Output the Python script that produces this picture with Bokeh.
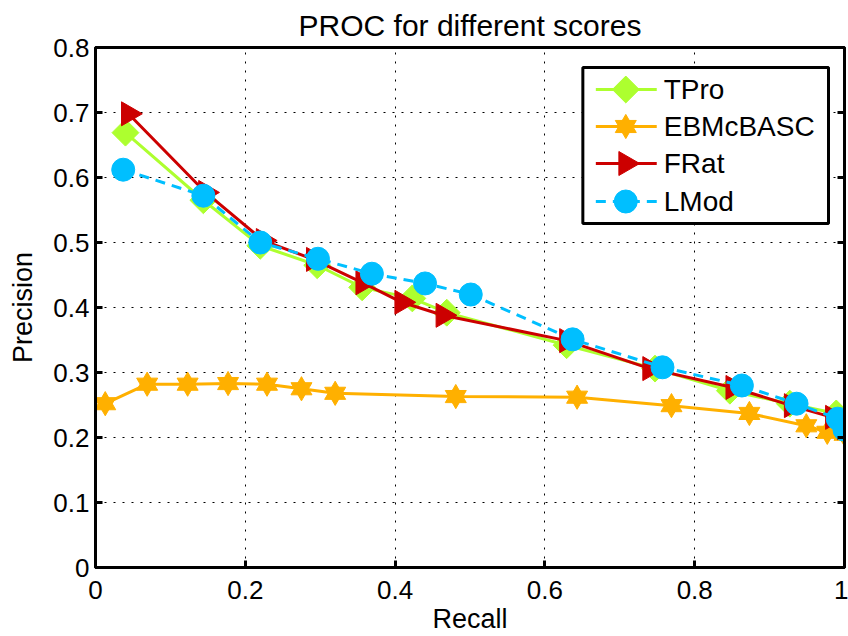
import math
from bokeh.plotting import figure
from bokeh.models import LinearAxis, Range1d, FixedTicker, CustomLabelingPolicy
from bokeh.core.properties import value
from bokeh.embed import file_html
from bokeh.resources import INLINE

# ---- data ----
title_text = "PROC for different scores"
series_names = ["TPro", "EBMcBASC", "FRat", "LMod"]

tpro_x = [0.040, 0.144, 0.220, 0.296, 0.356, 0.423, 0.469, 0.629, 0.747, 0.847, 0.927, 0.989, 1.0]
tpro_y = [0.669, 0.565, 0.495, 0.465, 0.431, 0.414, 0.392, 0.342, 0.306, 0.272, 0.252, 0.237, 0.210]

ebm_x = [0.013, 0.069, 0.123, 0.177, 0.229, 0.275, 0.320, 0.481, 0.643, 0.769, 0.873, 0.949, 0.977, 1.0]
ebm_y = [0.252, 0.282, 0.282, 0.283, 0.282, 0.275, 0.268, 0.263, 0.262, 0.249, 0.237, 0.218, 0.208, 0.205]

frat_x = [0.044, 0.147, 0.224, 0.291, 0.357, 0.409, 0.464, 0.629, 0.740, 0.851, 0.929, 0.984, 1.0]
frat_y = [0.698, 0.577, 0.503, 0.474, 0.438, 0.408, 0.388, 0.349, 0.306, 0.277, 0.249, 0.231, 0.215]

lmod_x = [0.037, 0.144, 0.220, 0.297, 0.369, 0.440, 0.501, 0.637, 0.757, 0.863, 0.936, 0.991, 1.0]
lmod_y = [0.612, 0.572, 0.500, 0.475, 0.452, 0.437, 0.420, 0.351, 0.308, 0.280, 0.252, 0.229, 0.212]

x_ticks = [0, 0.2, 0.4, 0.6, 0.8, 1]
y_ticks = [0, 0.1, 0.2, 0.3, 0.4, 0.5, 0.6, 0.7, 0.8]
x_tick_labels = {0: "0", 0.2: "0.2", 0.4: "0.4", 0.6: "0.6", 0.8: "0.8", 1: "1"}
y_tick_labels = {0: "0", 0.1: "0.1", 0.2: "0.2", 0.3: "0.3", 0.4: "0.4", 0.5: "0.5",
                 0.6: "0.6", 0.7: "0.7", 0.8: "0.8"}

GREEN = "#ADFF2F"
ORANGE = "#FFB000"
RED = "#CC0000"
BLUE = "#00BFFF"
FONT = "Liberation Sans"

# ---- layout (pixels) ----
W, H = 848, 636
FL, FR, FT, FB = 95, 845, 47, 567
X0, X1, Y0, Y1 = 0.0, 1.0, 0.0, 0.8


def px_x(px):
    return X0 + (px - FL) / (FR - FL) * (X1 - X0)


def px_y(py):
    return Y0 + (FB - py) / (FB - FT) * (Y1 - Y0)


p = figure(width=W, height=H, output_backend="svg", toolbar_location=None,
           x_range=Range1d(X0, X1), y_range=Range1d(Y0, Y1),
           min_border_left=FL, min_border_right=W - FR, min_border_top=FT,
           min_border_bottom=H - FB,
           x_axis_label="Recall", y_axis_label="Precision")

p.title.text = title_text
p.title.align = "center"
p.title.offset = -12
p.title.text_font = FONT
p.title.text_font_size = "30px"
p.title.text_font_style = "normal"
p.title.text_color = "black"
p.title.standoff = 11
p.outline_line_color = "black"
p.outline_line_width = 3
p.outline_line_alpha = 1.0

for ax in [p.xaxis[0], p.yaxis[0]]:
    ax.axis_line_width = 3
    ax.axis_line_color = "black"
    ax.major_tick_in = 7
    ax.major_tick_out = 0
    ax.major_tick_line_width = 3
    ax.minor_tick_line_color = None
    ax.major_label_text_font = FONT
    ax.major_label_text_font_size = "26px"
    ax.major_label_text_color = "black"
    ax.axis_label_text_font = FONT
    ax.axis_label_text_font_size = "27px"
    ax.axis_label_text_font_style = "normal"
    ax.axis_label_text_color = "black"

p.xaxis[0].ticker = FixedTicker(ticks=x_ticks)
p.yaxis[0].ticker = FixedTicker(ticks=y_ticks)
p.xaxis[0].major_label_overrides = x_tick_labels
p.yaxis[0].major_label_overrides = y_tick_labels
p.xaxis[0].major_label_standoff = 13
p.yaxis[0].major_label_standoff = 6
p.xaxis[0].axis_label_standoff = 2
p.yaxis[0].axis_label_standoff = 12

# right box axis with ticks only
no_labels = CustomLabelingPolicy(code="""
    for (const i of [...indices]) { indices.unset(i) }
    return indices
""")
rax = LinearAxis(ticker=FixedTicker(ticks=y_ticks))
rax.axis_line_width = 3
rax.major_tick_in = 7
rax.major_tick_out = 0
rax.major_tick_line_width = 3
rax.minor_tick_line_color = None
rax.major_label_policy = no_labels
rax.major_label_text_font_size = "1px"
rax.major_label_standoff = 0
p.add_layout(rax, "right")

for g in [p.xgrid[0], p.ygrid[0]]:
    g.grid_line_color = "black"
    g.grid_line_dash = "2 7"
    g.grid_line_width = 1
    g.grid_line_alpha = 1.0
p.xgrid[0].ticker = FixedTicker(ticks=x_ticks)
p.ygrid[0].ticker = FixedTicker(ticks=y_ticks)

DASH = "10 7"


def draw_markers(xs, ys, kind, color):
    if kind == "diamond":
        p.scatter(xs, ys, marker="square", angle=math.pi / 4, size=19,
                  fill_color=color, line_color=color)
    elif kind == "hexagram":
        p.scatter(xs, ys, marker="triangle", size=21, fill_color=color, line_color=color)
        p.scatter(xs, ys, marker="inverted_triangle", size=21, fill_color=color, line_color=color)
    elif kind == "tri_right":
        p.scatter(xs, ys, marker="triangle", angle=-math.pi / 2, size=24,
                  fill_color=color, line_color=color)
    else:
        p.scatter(xs, ys, marker="circle", size=23, fill_color=color, line_color=color)


series = [
    (tpro_x, tpro_y, GREEN, "solid", "diamond"),
    (ebm_x, ebm_y, ORANGE, "solid", "hexagram"),
    (frat_x, frat_y, RED, "solid", "tri_right"),
    (lmod_x, lmod_y, BLUE, DASH, "circle"),
]

for xs, ys, color, dash, kind in series:
    p.line(xs, ys, line_color=color, line_width=3, line_dash=dash)
    draw_markers(xs, ys, kind, color)

# ---- legend (drawn in the frame, positioned in pixels) ----
LEG_L, LEG_R, LEG_T, LEG_B = 583, 829, 67, 223
ROW_Y = [89, 126, 163, 201]
LINE_X0, LINE_X1, MARK_X, TEXT_X = 596, 657, 626, 664

p.quad(left=px_x(LEG_L), right=px_x(LEG_R), top=px_y(LEG_T), bottom=px_y(LEG_B),
       fill_color="white", line_color="black", line_width=3)

for (xs, ys, color, dash, kind), name, ry in zip(series, series_names, ROW_Y):
    yy = px_y(ry)
    p.line([px_x(LINE_X0), px_x(LINE_X1)], [yy, yy], line_color=color, line_width=3,
           line_dash=dash)
    draw_markers([px_x(MARK_X)], [yy], kind, color)
    p.text(x=[px_x(TEXT_X)], y=[yy], text=[name], text_font=value(FONT),
           text_font_size=value("28px"), text_baseline="middle", text_align="left",
           text_color="black")

open("out.html", "w").write(file_html(p, INLINE))
